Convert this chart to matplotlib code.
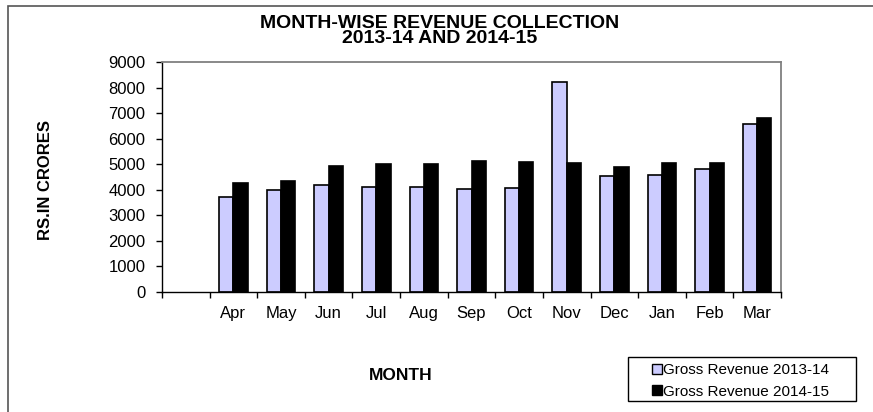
import matplotlib
matplotlib.use("Agg")
import matplotlib.pyplot as plt
import numpy as np

plt.rcParams["font.family"] = ["Liberation Sans", "DejaVu Sans"]

# data (Rs. in crores)
months = ["", "Apr", "May", "Jun", "Jul", "Aug", "Sep", "Oct", "Nov", "Dec", "Jan", "Feb", "Mar"]
rev_2013_14 = [np.nan, 3730, 3990, 4200, 4120, 4120, 4040, 4070, 8220, 4540, 4590, 4820, 6570]
rev_2014_15 = [np.nan, 4250, 4350, 4930, 5020, 5010, 5110, 5100, 5060, 4880, 5030, 5030, 6810]

W, H = 873, 412
fig = plt.figure(figsize=(W / 100, H / 100), dpi=100)
ax = fig.add_axes([162 / W, 1 - 292 / H, (781 - 162) / W, (292 - 62) / H])

x = np.arange(len(months))
w = 0.3
ax.bar(x - w / 2, rev_2013_14, w, color="#ccccff", edgecolor="black", linewidth=1.2,
       label="Gross Revenue 2013-14")
ax.bar(x + w / 2, rev_2014_15, w, color="black", edgecolor="black", linewidth=1.2,
       label="Gross Revenue 2014-15")

ax.set_xlim(-0.5, len(months) - 0.5)
ax.set_ylim(0, 9000)
ax.set_yticks(range(0, 9001, 1000))
ax.set_xticks(x)
ax.set_xticklabels(months)
ax.set_xticks(np.arange(-0.5, len(months), 1), minor=True)
ax.tick_params(axis="x", which="major", length=0, pad=10, labelsize=12)
ax.tick_params(axis="x", which="minor", direction="out", length=4, width=1)
ax.tick_params(axis="y", direction="out", length=4, width=1, labelsize=12, pad=8)

for s in ["top", "right"]:
    ax.spines[s].set_color("#808080")
    ax.spines[s].set_linewidth(1.3)
for s in ["left", "bottom"]:
    ax.spines[s].set_color("black")
    ax.spines[s].set_linewidth(1.0)

fig.text(440 / W, 1 - 31 / H, "MONTH-WISE REVENUE COLLECTION\n2013-14 AND 2014-15",
         ha="center", va="center", fontsize=14, fontweight="bold", linespacing=0.88)
fig.text(45 / W, 1 - 180 / H, "RS.IN CRORES", rotation=90, ha="center", va="center",
         fontsize=12, fontweight="bold")
fig.text(401 / W, 1 - 376 / H, "MONTH", ha="center", va="center",
         fontsize=12.5, fontweight="bold")

leg = fig.legend(loc="upper left", bbox_to_anchor=(652 / W, 1 - 363 / H),
                 frameon=False, fontsize=11, handlelength=0.65, handleheight=0.65,
                 handletextpad=0.1, borderpad=0, borderaxespad=0, labelspacing=0.5)
for h in leg.legend_handles:
    h.set_linewidth(1.0)

# legend box and outer chart border
fig.patches.append(plt.Rectangle((628 / W, 1 - 401 / H), (856 - 628) / W, 44 / H,
                                 transform=fig.transFigure, fill=False,
                                 edgecolor="black", linewidth=1.0))
fig.patches.append(plt.Rectangle((8 / W, -0.01), 1, 1 - 5.5 / H + 0.01, transform=fig.transFigure,
                                 fill=False, edgecolor="#555555", linewidth=1.2))

fig.savefig("out.png", dpi=100)
